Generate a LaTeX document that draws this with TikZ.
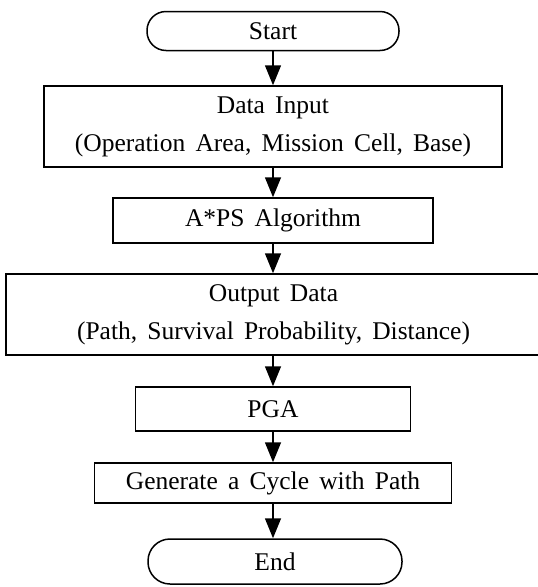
\documentclass[tikz,border=0pt]{standalone}
\usepackage{fontspec}
\setmainfont{Liberation Serif}[WordSpace=1.6]
\usetikzlibrary{arrows.meta}
\begin{document}
\begin{tikzpicture}[x=1pt,y=-1pt,
 box/.style={draw, line width=1.5pt, inner sep=0pt, font=\fontsize{25.5}{38}\selectfont, align=center},
 term/.style={box, rounded corners=19pt},
 arr/.style={line width=1.5pt, -{Triangle[width=16pt,length=20pt]}}]
\useasboundingbox (0,0) rectangle (538,587);
\fill[white] (0,0) rectangle (538,587);
\node[term, minimum width=252pt, minimum height=39pt] (start) at (273,31) {Start};
\node[box, minimum width=458pt, minimum height=81pt] (input) at (273,126.5) {Data Input\\(Operation Area, Mission Cell, Base)};
\node[box, minimum width=320pt, minimum height=45pt] (aps) at (273,220.5) {A*PS Algorithm};
\node[box, minimum width=535pt, minimum height=81pt] (output) at (273.5,314.5) {Output Data\\(Path, Survival Probability, Distance)};
\node[box, minimum width=275pt, minimum height=44pt] (pga) at (273,409) {PGA};
\node[box, minimum width=357pt, minimum height=40pt] (gen) at (273,483) {Generate a Cycle with Path};
\node[term, rounded corners=22pt, minimum width=254pt, minimum height=45pt] (end) at (275,561.5) {End};
\draw[arr] (start) -- (input);
\draw[arr] (input) -- (aps);
\draw[arr] (aps) -- (output.north -| aps.south);
\draw[arr] (output.south -| aps.south) -- (pga);
\draw[arr] (pga.south -| aps.south) -- (gen.north -| aps.south);
\draw[arr] (gen.south -| aps.south) -- (end.north -| aps.south);
\end{tikzpicture}
\end{document}
